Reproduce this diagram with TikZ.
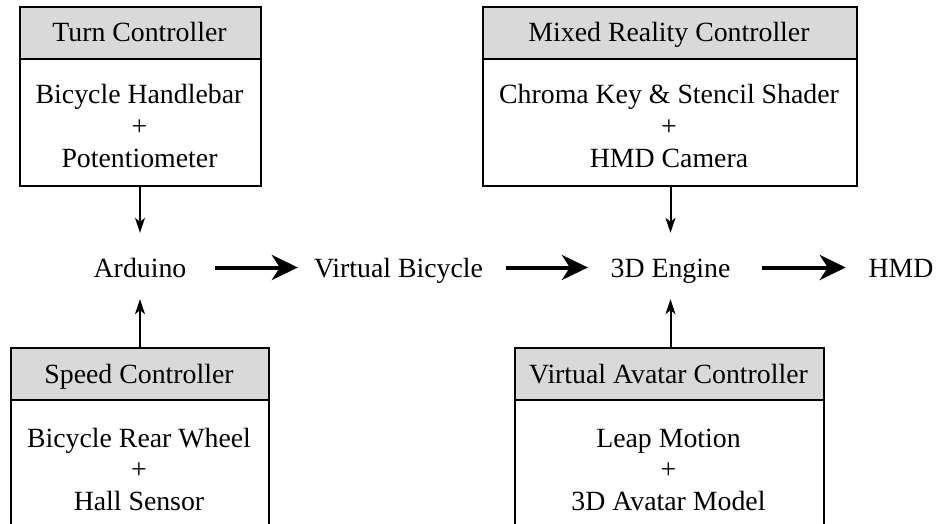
\documentclass[tikz,border=0pt]{standalone}
\usepackage{fontspec}
\setmainfont{Liberation Serif}
\usetikzlibrary{arrows.meta}
\definecolor{hdrgray}{RGB}{217,217,217}
\newcommand\stacklines[1]{\begin{tabular}[t]{@{}c@{}}#1\end{tabular}}
\begin{document}
\begin{tikzpicture}[x=1pt,y=-1pt,
  hdr/.style={draw, line width=2pt, fill=hdrgray, anchor=north west, inner sep=0pt},
  bodybox/.style={draw, line width=2pt, fill=white, anchor=north west, inner sep=0pt},
  txt/.style={inner sep=0pt, anchor=base, font=\fontsize{27.8pt}{31.5pt}\selectfont},
  mid/.style={inner sep=0pt, anchor=base, text height=19pt, text depth=0pt, font=\fontsize{27.8pt}{31.5pt}\selectfont},
  thin/.style={line width=2pt, -{Stealth[length=15pt, width=10pt, inset=4pt]}},
  thick/.style={line width=4pt, -{Stealth[length=26pt, width=25pt, inset=8pt]}}]
\clip (0,0) rectangle (936,524);
% Turn controller
\node[hdr, minimum width=241pt, minimum height=52pt] (turnH) at (19,6) {};
\node[bodybox, minimum width=241pt, minimum height=127pt] (turnB) at (19,58) {};
\node[txt] (turnT) at (139.5,41.5) {Turn Controller};
\node[txt] (turnX) at (139.5,104) {\stacklines{Bicycle Handlebar\\+\\Potentiometer}};
% Mixed reality controller
\node[hdr, minimum width=374pt, minimum height=52pt] (mixH) at (482,6) {};
\node[bodybox, minimum width=374pt, minimum height=127pt] (mixB) at (482,58) {};
\node[txt] (mixT) at (669,41.5) {Mixed Reality Controller};
\node[txt] (mixX) at (669,104) {\stacklines{Chroma Key \& Stencil Shader\\+\\HMD Camera}};
% Speed controller
\node[hdr, minimum width=258pt, minimum height=52pt] (spdH) at (10,347) {};
\node[bodybox, minimum width=258pt, minimum height=150pt] (spdB) at (10,399) {};
\node[txt] (spdT) at (139,383) {Speed Controller};
\node[txt] (spdX) at (139,447) {\stacklines{Bicycle Rear Wheel\\+\\Hall Sensor}};
% Virtual avatar controller
\node[hdr, minimum width=309pt, minimum height=52pt] (avaH) at (514,347) {};
\node[bodybox, minimum width=309pt, minimum height=150pt] (avaB) at (514,399) {};
\node[txt] (avaT) at (668.5,383) {Virtual Avatar Controller};
\node[txt] (avaX) at (668.5,447) {\stacklines{Leap Motion\\+\\3D Avatar Model}};
% Middle row
\node[mid] (ard) at (140,277) {Arduino};
\node[mid] (vb) at (398.5,277) {Virtual Bicycle};
\node[mid] (eng) at (670.5,277) {3D Engine};
\node[mid] (hmd) at (901,277) {HMD};
% Connectors
\draw[thin, shorten >=25pt] (ard |- turnB.south) -- (ard.north);
\draw[thin, shorten >=22pt] (ard |- spdH.north) -- (ard.south);
\draw[thin, shorten >=25pt] (eng |- mixB.south) -- (eng.north);
\draw[thin, shorten >=22pt] (eng |- avaH.north) -- (eng.south);
\draw[thick, shorten <=28pt, shorten >=16pt] (ard.east) -- (vb.west);
\draw[thick, shorten <=23pt, shorten >=22.6pt] (vb.east) -- (eng.west);
\draw[thick, shorten <=31.6pt, shorten >=22.6pt] (eng.east) -- (hmd.west);
\end{tikzpicture}
\end{document}
